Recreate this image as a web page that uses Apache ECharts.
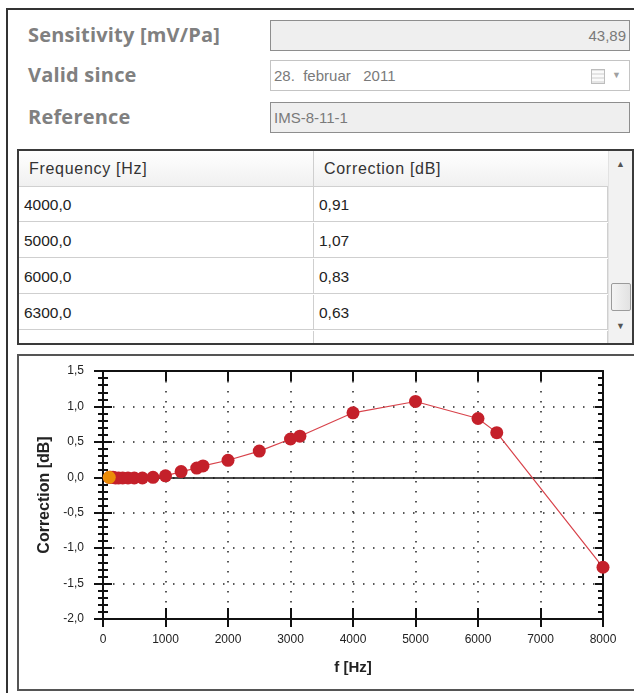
<!DOCTYPE html>
<html>
<head>
<meta charset="utf-8">
<script src="https://cdn.jsdelivr.net/npm/echarts@6/dist/echarts.min.js"></script>
<style>
  body { margin: 0; width: 634px; height: 693px; overflow: hidden; background: #fff; position: relative; font-family: "Liberation Sans", Arial, sans-serif; }
  .frame { position: absolute; left: 6px; top: 8px; width: 700px; height: 760px; border-left: 2px solid #333; border-top: 2px solid #333; }
  .lbl { position: absolute; left: 28px; font: 700 20px "Open Sans", sans-serif; letter-spacing: 0.2px; color: #808080; line-height: 24px; }
  .box { position: absolute; left: 270px; width: 358px; height: 29px; border: 1px solid #8e8e8e; background: #efefef; color: #7a7a7a; font-size: 15px; line-height: 29px; box-sizing: content-box; }
  .box.white { background: #fff; border-color: #c4c4c4; }
  .box span { padding: 0 3px; }
  .cal { position: absolute; right: 24px; top: 8px; width: 12px; height: 13px; border: 1px solid #bdbdbd; background: repeating-linear-gradient(0deg, #e4e4e4 0 2px, #fafafa 2px 4px); }
  .dd { position: absolute; right: 8px; top: 0; font-size: 9px; color: #a0a0a0; }
  .table { position: absolute; left: 17px; top: 149px; width: 613px; height: 192px; border: 2px solid #3a3a3a; overflow: hidden; background: #fff; }
  .hdr { position: absolute; left: 0; top: 0; width: 589px; height: 35px; background: linear-gradient(#ffffff, #f0f0f0); border-bottom: 1px solid #d0d0d0; }
  .cell { position: absolute; height: 35px; line-height: 35px; font-size: 15.5px; color: #222; padding-left: 5px; box-sizing: border-box; border-right: 1px solid #cfcfcf; border-bottom: 1px solid #cfcfcf; }
  .hdr .cell { border-bottom: none; color: #333; padding-left: 10px; font-size: 16px; letter-spacing: 0.7px; }
  .sb { position: absolute; left: 589px; top: 0; width: 24px; height: 192px; background: #f2f2f2; border-left: 1px solid #e2e2e2; }
  .thumb { position: absolute; left: 2px; top: 132px; width: 18px; height: 26px; border: 1px solid #9b9b9b; border-radius: 2px; background: linear-gradient(90deg, #f4f4f4, #e2e2e2); }
  .arr { position: absolute; left: 7px; font-size: 9px; color: #555; }
  .panel { position: absolute; left: 17px; top: 354px; width: 640px; height: 333px; border: 2px solid #555; }
  #chart { position: absolute; left: 19px; top: 356px; width: 612px; height: 331px; }
</style>
</head>
<body>
<div class="frame"></div>

<div class="lbl" style="top:23px">Sensitivity [mV/Pa]</div>
<div class="lbl" style="top:63px">Valid since</div>
<div class="lbl" style="top:105px">Reference</div>

<div class="box" style="top:20px; text-align:right"><span>43,89</span></div>
<div class="box white" style="top:60px"><span>28.&nbsp;&nbsp;februar&nbsp;&nbsp;&nbsp;2011</span><div class="cal"></div><div class="dd">&#9660;</div></div>
<div class="box" style="top:102px"><span>IMS-8-11-1</span></div>

<div class="table" id="tbl">
  <div class="hdr">
    <div class="cell" style="left:0; width:295px">Frequency [Hz]</div>
    <div class="cell" style="left:295px; width:294px; border-right:none">Correction [dB]</div>
  </div>
  <div class="sb">
    <div class="arr" style="top:8px">&#9650;</div>
    <div class="thumb"></div>
    <div class="arr" style="top:170px">&#9660;</div>
  </div>
</div>

<div class="panel"></div>
<div id="chart"></div>

<script>
// kalibreringsdata (frekvens i Hz, korrektion i dB)
const freq = [100, 125, 160, 200, 250, 315, 400, 500, 630, 800, 1000, 1250, 1500, 1600, 2000, 2500, 3000, 3150, 4000, 5000, 6000, 6300, 8000];
const corr = [0.00, 0.00, 0.00, -0.01, -0.01, -0.01, -0.01, -0.01, -0.01, 0.00, 0.02, 0.08, 0.13, 0.16, 0.24, 0.37, 0.54, 0.58, 0.91, 1.07, 0.83, 0.63, -1.27];

// markeret punkt (gul)
const selFreq = [100];
const selCorr = [0.00];

const xMin = 0, xMax = 8000, xStep = 1000;
const yMin = -2.0, yMax = 1.5, yStep = 0.5;

// tabel - rullet ned til 4000 Hz
const firstRow = freq.indexOf(4000);
const tbl = document.getElementById('tbl');
for (let i = firstRow; i < freq.length; i++) {
    const top = 36 + (i - firstRow) * 36;
    const a = document.createElement('div');
    a.className = 'cell';
    a.style.cssText = `left:0;width:295px;top:${top}px`;
    a.textContent = freq[i].toFixed(1).replace('.', ',');
    const b = document.createElement('div');
    b.className = 'cell';
    b.style.cssText = `left:295px;width:294px;top:${top}px`;
    b.textContent = corr[i].toFixed(2).replace('.', ',');
    tbl.insertBefore(a, tbl.querySelector('.sb'));
    tbl.insertBefore(b, tbl.querySelector('.sb'));
}

const chart = echarts.init(document.getElementById('chart'));
const ink = '#111';
const dots = { type: [1.5, 8.5], color: '#222', width: 1.5 };
const font = 'Liberation Sans';

const xBase = { type: 'value', min: xMin, max: xMax, interval: xStep, splitLine: { show: false }, axisLabel: { show: false } };
const yBase = { type: 'value', min: yMin, max: yMax, interval: yStep, splitLine: { show: false }, axisLabel: { show: false } };

const option = {
    animation: false,
    grid: { left: 84, top: 15, width: 500, height: 248, containLabel: false },
    xAxis: [
        {
            ...xBase,
            position: 'bottom',
            axisLine: { onZero: false, lineStyle: { color: ink, width: 2 } },
            axisTick: { inside: false, length: 8, lineStyle: { color: ink, width: 2 } },
            axisLabel: { show: true, margin: 15, fontSize: 12, color: '#222', fontFamily: font, formatter: v => String(v) },
            splitLine: { show: true, lineStyle: dots },
            name: 'f [Hz]',
            nameLocation: 'middle',
            nameGap: 41,
            nameTextStyle: { fontWeight: 'bold', fontSize: 15, color: '#222', fontFamily: font }
        },
        {
            ...xBase,
            position: 'bottom',
            axisLine: { show: false, onZero: false },
            axisTick: { inside: true, length: 11, lineStyle: { color: ink, width: 2 } }
        },
        {
            ...xBase,
            position: 'top',
            axisLine: { onZero: false, lineStyle: { color: ink, width: 2 } },
            axisTick: { inside: true, length: 10, lineStyle: { color: ink, width: 2 } }
        }
    ],
    yAxis: [
        {
            ...yBase,
            position: 'left',
            axisLine: { onZero: false, lineStyle: { color: ink, width: 2 } },
            axisTick: { inside: false, length: 9, lineStyle: { color: ink, width: 2 } },
            minorTick: { show: true, splitNumber: 5, length: 5, lineStyle: { color: ink, width: 2 } },
            axisLabel: {
                show: true, margin: 19, fontSize: 12, color: '#222', fontFamily: font,
                formatter: v => v.toFixed(1).replace('.', ',')
            },
            splitLine: { show: true, lineStyle: dots },
            name: 'Correction [dB]',
            nameLocation: 'middle',
            nameGap: 49,
            nameTextStyle: { fontWeight: 'bold', fontSize: 16, color: '#222', fontFamily: font }
        },
        {
            ...yBase,
            position: 'left',
            axisLine: { show: false, onZero: false },
            axisTick: { inside: true, length: 9, lineStyle: { color: ink, width: 2 } },
            minorTick: { show: true, splitNumber: 5, length: 5, lineStyle: { color: ink, width: 2 } }
        },
        {
            ...yBase,
            position: 'right',
            axisLine: { onZero: false, lineStyle: { color: ink, width: 2 } },
            axisTick: { inside: true, length: 8, lineStyle: { color: ink, width: 2 } },
            minorTick: { show: true, splitNumber: 5, length: 5, lineStyle: { color: ink, width: 2 } }
        }
    ],
    series: [
        {
            // nul-linje under punkterne
            type: 'line',
            data: [],
            silent: true,
            markLine: {
                symbol: 'none',
                silent: true,
                z: 2,
                label: { show: false },
                lineStyle: { color: ink, width: 1.5, type: 'solid' },
                data: [{ yAxis: 0 }]
            },
            z: 1
        },
        {
            name: 'Correction',
            type: 'line',
            data: freq.map((f, i) => [f, corr[i]]),
            symbol: 'circle',
            symbolSize: 13,
            showAllSymbol: true,
            itemStyle: { color: '#c4202a' },
            lineStyle: { color: '#d8434b', width: 1.2 },
            z: 3
        },
        {
            name: 'Selected',
            type: 'scatter',
            data: selFreq.map((f, i) => [f, selCorr[i]]),
            symbol: 'circle',
            symbolSize: 13,
            itemStyle: { color: '#f5a800' },
            z: 4
        }
    ]
};

chart.setOption(option);
</script>
</body>
</html>
